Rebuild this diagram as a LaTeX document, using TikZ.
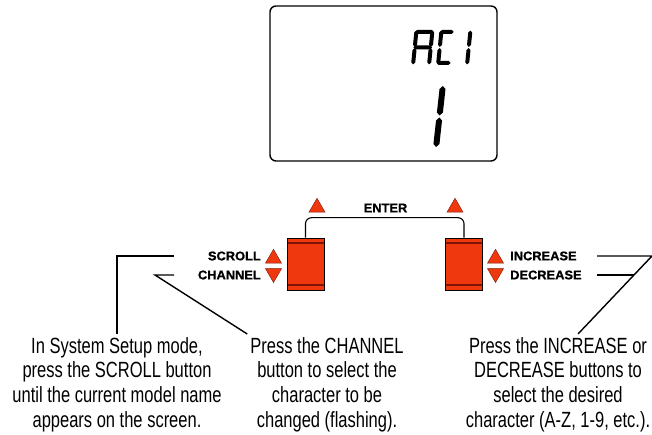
\documentclass[tikz,border=0pt]{standalone}
\usepackage{fontspec}
\setmainfont{Liberation Sans}[FakeStretch=0.75]
\newfontfamily\keyfont{Liberation Sans}[FakeStretch=1.02, FakeBold=1]
\usepackage{tikz}
\usetikzlibrary{shapes.geometric, calc}
\definecolor{btnred}{RGB}{240,56,14}
\definecolor{btndark}{RGB}{125,22,8}
\tikzset{
  screen/.style={
    rectangle, rounded corners=6pt, draw=black, line width=1.4pt,
    minimum width=227pt, minimum height=155pt
  },
  button/.style={
    rectangle, draw=black, line width=0.6pt, fill=btnred,
    minimum width=37pt, minimum height=52pt, inner sep=0pt,
    path picture={
      \draw[btndark, line width=2pt]
        ([yshift=-5pt]path picture bounding box.north west) -- ([yshift=-5pt]path picture bounding box.north east);
      \draw[btndark, line width=2pt]
        ([yshift=4.5pt]path picture bounding box.south west) -- ([yshift=4.5pt]path picture bounding box.south east);
    }
  },
  upkey/.style={
    regular polygon, regular polygon sides=3, minimum size=18.5pt,
    inner sep=0pt, fill=btnred, draw=btndark, line width=0.4pt
  },
  downkey/.style={upkey, shape border rotate=180},
  keylabel/.style={inner sep=0pt, font=\keyfont\bfseries\fontsize{12.6}{14}\selectfont},
  note/.style={align=center, inner sep=3pt, font=\fontsize{22}{24.7}\selectfont},
  leader/.style={draw=black, line width=1.4pt},
  bracket/.style={draw=black, line width=1.1pt, rounded corners=6pt}
}
% LCD segments
\newcommand\lcdh[3]{\fill (#1+\lcdgap,#3) -- (#1+\lcdgap+\lcdt,#3+\lcdt) -- (#2-\lcdgap-\lcdt,#3+\lcdt)
  -- (#2-\lcdgap,#3) -- (#2-\lcdgap-\lcdt,#3-\lcdt) -- (#1+\lcdgap+\lcdt,#3-\lcdt) -- cycle;}
\newcommand\lcdv[3]{\fill (#1,#2+\lcdgap) -- (#1+\lcdt,#2+\lcdgap+\lcdt) -- (#1+\lcdt,#3-\lcdgap-\lcdt)
  -- (#1,#3-\lcdgap) -- (#1-\lcdt,#3-\lcdgap-\lcdt) -- (#1-\lcdt,#2+\lcdgap+\lcdt) -- cycle;}

\begin{document}
\begin{tikzpicture}[x=1pt, y=1pt]
  \useasboundingbox (0,0) rectangle (652,435);

  \node[screen] (lcd) at (383.5,351.5) {};
  % A
  \begin{scope}[shift={(411,370)}, xslant=0.1]
    \def\lcdt{2}\def\lcdgap{0.6}
    \lcdh{0}{20}{33} \lcdh{0}{20}{17.5}
    \lcdv{2}{0}{17.5} \lcdv{2}{17.5}{35} \lcdv{18}{0}{17.5} \lcdv{18}{17.5}{35}
  \end{scope}
  % C
  \begin{scope}[shift={(436,370)}, xslant=0.1]
    \def\lcdt{2}\def\lcdgap{0.6}
    \lcdh{0}{15}{33} \lcdh{0}{15}{2}
    \lcdv{2}{0}{17.5} \lcdv{2}{17.5}{35}
  \end{scope}
  % 1
  \begin{scope}[shift={(462,370)}, xslant=0.1]
    \def\lcdt{2}\def\lcdgap{0.6}
    \lcdv{5}{0}{17.5} \lcdv{5}{17.5}{35}
  \end{scope}
  \begin{scope}[shift={(433,287)}, xslant=0.11]
    \def\lcdt{3}\def\lcdgap{1}
    \lcdv{3}{0}{31.5} \lcdv{3}{31.5}{63}
  \end{scope}

  \node[button] (chbtn) at (305.5,171) {};
  \node[button] (incbtn) at (464,171) {};
  \draw[bracket] (chbtn.north) -- ++(0,20) -| (incbtn.north);
  \node[keylabel] (enter) at (385.5,227) {ENTER};

  \node[upkey] (enterl) at (317,227.5) {};
  \node[upkey] (enterr) at (455,227.5) {};
  \node[upkey] (scrollup) at (273.5,176.5) {};
  \node[downkey] (chandn) at (273.5,161.7) {};
  \node[upkey] (incup) at (495.5,176.5) {};
  \node[downkey] (decdn) at (495.5,161.7) {};

  \node[keylabel, anchor=east] (scroll) at (261,179) {SCROLL};
  \node[keylabel, anchor=east] (channel) at (261,160) {CHANNEL};
  \node[keylabel, anchor=west] (increase) at (510,179) {INCREASE};
  \node[keylabel, anchor=west] (decrease) at (510,160) {DECREASE};

  \node[note, anchor=north] (setup) at (117,101)
    {In System Setup mode,\\press the SCROLL button\\until the current model name\\appears on the screen.};
  \node[note, anchor=north] (select) at (327,101)
    {Press the CHANNEL\\button to select the\\character to be\\changed (flashing).};
  \node[note, anchor=north] (change) at (558,101)
    {Press the INCREASE or\\DECREASE buttons to\\select the desired\\character (A-Z, 1-9, etc.).};

  \coordinate (incbend) at (652,179);
  \coordinate (incfoot) at ([xshift=20pt]change.north);
  \coordinate (decjoin) at ($(incbend)!0.25!(incfoot)$);
  \draw[leader] ([xshift=-87pt]scroll.east) -| (setup.north);
  \draw[leader] ([xshift=-87pt]channel.east) -- ++(-19,0) -- (select.north west);
  \draw[leader] ([xshift=87pt]increase.west) -- (incbend) -- (incfoot);
  \draw[leader] ([xshift=87pt]decrease.west) -- (decjoin |- decrease.west);
\end{tikzpicture}
\end{document}
